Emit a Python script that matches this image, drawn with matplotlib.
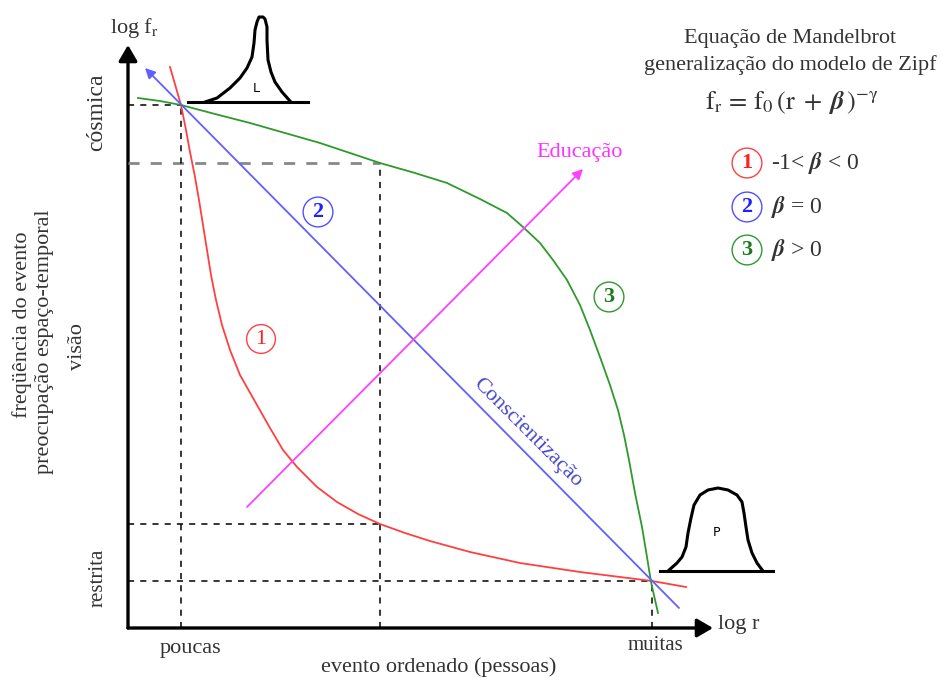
import matplotlib
matplotlib.use("Agg")
import matplotlib.pyplot as plt
from matplotlib.patches import FancyArrowPatch

plt.rcParams['font.family'] = ['Liberation Serif', 'DejaVu Serif']
plt.rcParams['mathtext.fontset'] = 'stix'

# coordinates: origin where the two axes meet (log r, log f_r)
# reference levels used by the dashed guide lines
r_poucas, r_meio, r_muitas = 53, 252, 524
f_cosmica, f_alta, f_baixa, f_restrita = 523, 465, 104, 47

# curve 1 (-1 < beta < 0)
red_x = [42, 53, 58, 62, 67, 71, 75, 79, 83, 88, 94, 102, 112, 129, 142, 155, 169, 189, 209, 230,
         252, 277, 302, 342, 392, 452, 492, 524, 558]
red_y = [561, 523, 498, 476, 451, 428, 403, 378, 353, 328, 303, 278, 253, 223, 200, 178, 161, 141, 126, 114,
         104, 95, 87, 76, 65, 56, 51, 47, 41]

# curve 2 (beta = 0), straight line
blue_x = [17, 551]
blue_y = [560, 20]

# curve 3 (beta > 0)
green_x = [10, 32, 53, 87, 122, 157, 192, 222, 252, 287, 319, 352, 379, 395, 412, 425, 439, 452, 462, 472,
           482, 490, 496, 501, 507, 514, 519, 523, 530]
green_y = [530, 527, 523, 514, 505, 495, 485, 475, 465, 455, 445, 429, 415, 401, 385, 368, 348, 323, 298, 271,
           243, 218, 193, 168, 135, 101, 71, 46, 15]

# "Educação" arrow
edu_x = [119, 455]
edu_y = [121, 459]

# little sketches of the distributions
lor_x = [77, 89, 102, 112, 119, 124, 126, 127, 129, 131, 135, 137, 139, 139, 140, 143, 147, 154, 162]
lor_y = [526, 530, 540, 550, 560, 571, 585, 598, 606, 611, 611, 609, 601, 588, 568, 556, 546, 536, 527]
lor_base = ([60, 180], [526, 526])

par_x = [540, 549, 554, 558, 560, 563, 566, 572, 580, 590, 600, 609, 614, 616, 618, 620, 624, 629, 635]
par_y = [57, 65, 71, 81, 95, 110, 123, 133, 138, 140, 138, 133, 126, 115, 101, 88, 75, 65, 57]
par_base = ([532, 645], [57, 57])

fig = plt.figure(figsize=(9.41, 6.77), dpi=100)
ax = fig.add_axes([0, 0, 1, 1])
ax.set_xlim(-128, 813)
ax.set_ylim(-49, 628)
ax.axis('off')

txt_col = '#333333'
fs = 16

# axes with arrows
ax.add_patch(FancyArrowPatch((0, 0), (0, 583), arrowstyle='-|>,head_length=6,head_width=3.5',
                             mutation_scale=1.6, lw=2.4, color='black', shrinkA=0, shrinkB=0))
ax.add_patch(FancyArrowPatch((0, 0), (585, 0), arrowstyle='-|>,head_length=6,head_width=3.5',
                             mutation_scale=1.6, lw=2.4, color='black', shrinkA=0, shrinkB=0))

# dashed guides
dash = dict(color='black', lw=1.1, dashes=(4, 4))
ax.plot([0, r_poucas], [f_cosmica, f_cosmica], **dash)
ax.plot([0, r_meio], [f_alta, f_alta], color='#888888', lw=2, dashes=(4, 4))
ax.plot([0, r_meio], [f_baixa, f_baixa], **dash)
ax.plot([0, r_muitas], [f_restrita, f_restrita], **dash)
ax.plot([r_poucas, r_poucas], [0, f_cosmica], **dash)
ax.plot([r_meio, r_meio], [0, f_alta], **dash)
ax.plot([r_muitas, r_muitas], [0, f_restrita], **dash)

# curves
ax.plot(red_x, red_y, color='#ff4040', lw=1.3, solid_joinstyle='round')
ax.plot(green_x, green_y, color='#2e9a2e', lw=1.3, solid_joinstyle='round')
ax.annotate('', xy=(blue_x[0], blue_y[0]), xytext=(blue_x[1], blue_y[1]),
            arrowprops=dict(arrowstyle='-|>,head_length=0.6,head_width=0.3', color='#6060ff', lw=1.3,
                            shrinkA=0, shrinkB=0))
ax.annotate('', xy=(edu_x[1], edu_y[1]), xytext=(edu_x[0], edu_y[0]),
            arrowprops=dict(arrowstyle='-|>,head_length=0.6,head_width=0.3', color='#ff40ff', lw=1.3,
                            shrinkA=0, shrinkB=0))

# distribution sketches
ax.plot(lor_x, lor_y, color='black', lw=2.2, solid_joinstyle='round')
ax.plot(*lor_base, color='black', lw=2.2)
ax.text(128, 540, 'L', fontsize=9, family='DejaVu Sans', ha='center', va='center')
ax.plot(par_x, par_y, color='black', lw=2.2, solid_joinstyle='round')
ax.plot(*par_base, color='black', lw=2.2)
ax.text(589, 95, 'P', fontsize=9, family='DejaVu Sans', ha='center', va='center')

# axis texts
ax.text(6, 600, r'log f$_{\mathrm{r}}$', fontsize=fs, ha='center', va='center', color=txt_col)
ax.text(590, 4, 'log r', fontsize=fs, ha='left', va='center', color=txt_col)
ax.text(62, -20, 'poucas', fontsize=fs, ha='center', va='center', color=txt_col)
ax.text(527, -17, 'muitas', fontsize=fs - 1, ha='center', va='center', color=txt_col)
ax.text(311, -39, 'evento ordenado (pessoas)', fontsize=fs, ha='center', va='center', color=txt_col)
ax.text(-31, 516, 'cósmica', fontsize=fs + 1, rotation=90, ha='center', va='center', color=txt_col)
ax.text(-30, 50, 'restrita', fontsize=fs - 1, rotation=90, ha='center', va='center', color=txt_col)
ax.text(-106, 303, 'freqüência do evento', fontsize=fs, rotation=90, ha='center', va='center', color=txt_col)
ax.text(-83, 286, 'preocupação espaço-temporal', fontsize=fs, rotation=90, ha='center', va='center',
        color=txt_col)
ax.text(-50, 281, 'visão', fontsize=fs, rotation=90, ha='center', va='center', color=txt_col)

# curve labels
circ = 'circle,pad=0.22'
ax.text(133, 289, '1', fontsize=16, color='#ff2020', ha='center', va='center',
        bbox=dict(boxstyle=circ, fc='white', ec='#ff4040', lw=1))
ax.text(190, 416, '2', fontsize=16, color='#2020ff', fontweight='bold', ha='center', va='center',
        bbox=dict(boxstyle=circ, fc='white', ec='#5050ff', lw=1))
ax.text(481, 331, '3', fontsize=16, color='#1e7a1e', fontweight='bold', ha='center', va='center',
        bbox=dict(boxstyle=circ, fc='white', ec='#2e9a2e', lw=1))
ax.text(452, 476, 'Educação', fontsize=fs, color='#ff30ff', ha='center', va='center')
ax.text(399, 195, 'Conscientização', fontsize=fs, color='#4848c8', rotation=-45, ha='center', va='center',
        rotation_mode='anchor')

# equation legend
ax.text(662, 590, 'Equação de Mandelbrot', fontsize=fs, ha='center', va='center', color=txt_col)
ax.text(662, 563, 'generalização do modelo de Zipf', fontsize=fs, ha='center', va='center', color=txt_col)
ax.text(664, 525, r'$\mathrm{f_r\,=\,f_0\,(r\;+\;}\boldsymbol{\beta}\,\mathrm{)^{-\gamma}}$', fontsize=19,
        ha='center', va='center', color=txt_col)
legend_nums = ['1', '2', '3']
legend_txt = [r'-1< $\boldsymbol{\beta}$ < 0', r'$\boldsymbol{\beta}$ = 0', r'$\boldsymbol{\beta}$ > 0']
legend_cols = ['#ff2020', '#2020ff', '#1e7a1e']
legend_ec = ['#ff4040', '#5050ff', '#2e9a2e']
legend_y = [465, 421, 378]
for num, txt, c, ec, y in zip(legend_nums, legend_txt, legend_cols, legend_ec, legend_y):
    ax.text(619, y, num, fontsize=16, color=c, fontweight='bold', ha='center', va='center',
            bbox=dict(boxstyle=circ, fc='white', ec=ec, lw=1))
    ax.text(643, y, txt, fontsize=17, ha='left', va='center', color=txt_col)

fig.savefig('out.png', dpi=100)
